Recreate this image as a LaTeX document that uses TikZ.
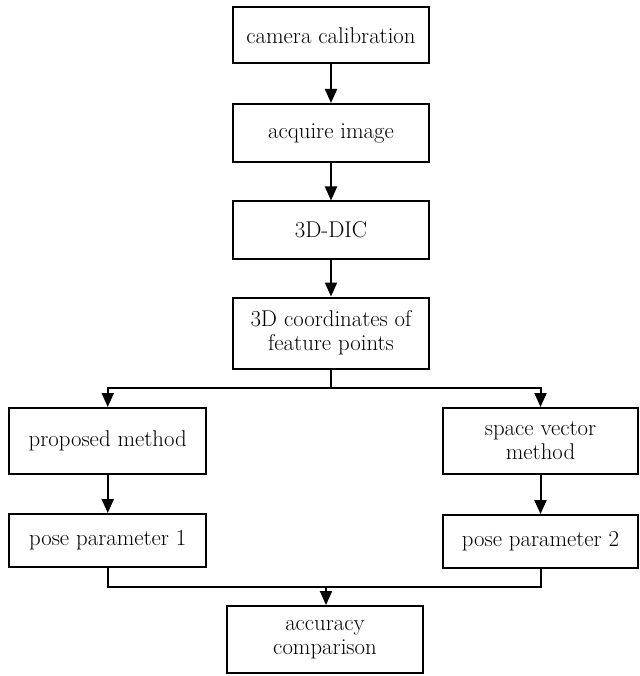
\documentclass[tikz,border=0pt]{standalone}
\usetikzlibrary{arrows.meta}
\begin{document}
\begin{tikzpicture}[x=1pt,y=-1pt,
  box/.style={draw=black, line width=2pt, fill=white, rectangle, align=center,
    inner sep=0pt, font=\fontsize{22.8}{24}\selectfont},
  link/.style={draw=black, line width=2pt},
  arr/.style={link, -{Triangle[width=12pt,length=14pt]}}]
\useasboundingbox (0,0) rectangle (639,676);
\node[box, minimum width=196pt, minimum height=56pt] (b1) at (331,35.5) {camera calibration};
\node[box, minimum width=196pt, minimum height=58pt] (b2) at (331,133) {acquire image};
\node[box, minimum width=196pt, minimum height=57pt] (b3) at (331,230) {3D-DIC};
\node[box, minimum width=196pt, minimum height=71pt] (b4) at (331,333) {3D coordinates of\\feature points};
\node[box, minimum width=197pt, minimum height=66pt] (b5) at (107.75,441) {proposed method};
\node[box, minimum width=195pt, minimum height=66pt] (b6) at (540.5,441) {space vector\\method};
\node[box, minimum width=197pt, minimum height=53pt] (b7) at (107.75,540.5) {pose parameter 1};
\node[box, minimum width=195pt, minimum height=53pt] (b8) at (540.5,541.5) {pose parameter 2};
\node[box, minimum width=196pt, minimum height=67pt] (b9) at (325,639.5) {accuracy\\comparison};
\draw[arr] (b1) -- (b2);
\draw[arr] (b2) -- (b3);
\draw[arr] (b3) -- (b4);
\coordinate (split) at (331,388);
\draw[link] (b4.south) -- (split);
\draw[arr] (split) -| (b5.north);
\draw[arr] (split) -| (b6.north);
\draw[arr] (b5) -- (b7);
\draw[arr] (b6) -- (b8);
\coordinate (join) at (326,587);
\draw[link] (b7.south) |- (join) -| (b8.south);
\draw[arr] (join) -- (join |- b9.north);
\end{tikzpicture}
\end{document}
